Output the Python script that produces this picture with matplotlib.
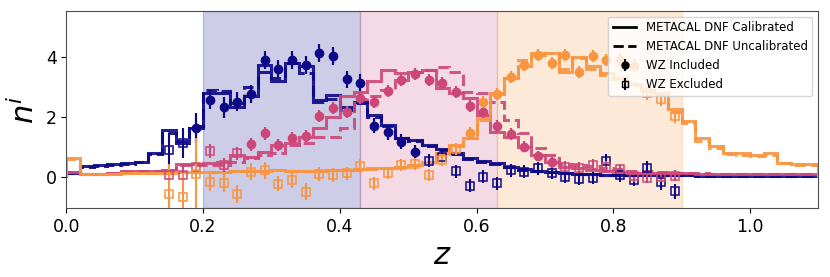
import numpy as np
import matplotlib
matplotlib.use("Agg")
import matplotlib.pyplot as plt

# histogram bin edges (dz = 0.02 from 0 to 1.1)
bin_edges = np.round(np.linspace(0.0, 1.1, 56), 2)

# METACAL DNF n(z), calibrated (solid) and uncalibrated (dashed)
nz_bin1_cal = [0.11, 0.35, 0.38, 0.42, 0.46, 0.50, 0.80, 1.56, 1.11, 1.61,
               2.80, 2.80, 2.33, 2.69, 3.72, 3.17, 3.78, 3.67, 2.56, 2.72,
               2.31, 2.50, 2.05, 1.72, 1.28, 1.22, 1.06, 0.91, 0.78, 0.61,
               0.52, 0.45, 0.33, 0.25, 0.20, 0.15, 0.12, 0.10, 0.08, 0.07,
               0.06, 0.06, 0.05, 0.05, 0.05, 0.05, 0.04, 0.04, 0.04, 0.04,
               0.04, 0.04, 0.04, 0.04, 0.04]
nz_bin1_uncal = [0.11, 0.32, 0.36, 0.40, 0.44, 0.48, 0.75, 1.45, 1.18, 1.68,
                 2.90, 2.85, 2.45, 3.00, 3.47, 3.28, 3.78, 3.45, 2.50, 2.60,
                 2.22, 2.45, 2.00, 1.68, 1.30, 1.20, 1.02, 0.88, 0.76, 0.60,
                 0.50, 0.43, 0.32, 0.24, 0.19, 0.15, 0.12, 0.10, 0.08, 0.07,
                 0.06, 0.06, 0.05, 0.05, 0.05, 0.05, 0.04, 0.04, 0.04, 0.04,
                 0.04, 0.04, 0.04, 0.04, 0.04]
nz_bin2_cal = [0.15, 0.10, 0.10, 0.12, 0.18, 0.20, 0.20, 0.22, 0.44, 0.44,
               0.46, 0.50, 0.72, 0.67, 0.83, 1.06, 1.11, 1.33, 1.61, 2.00,
               2.67, 2.83, 3.17, 3.56, 3.44, 3.50, 3.56, 2.95, 2.78, 2.61,
               2.06, 1.50, 1.33, 1.00, 0.72, 0.50, 0.33, 0.30, 0.22, 0.18,
               0.15, 0.14, 0.13, 0.12, 0.11, 0.11, 0.10, 0.10, 0.09, 0.09,
               0.09, 0.08, 0.08, 0.08, 0.08]
nz_bin2_uncal = [0.15, 0.10, 0.10, 0.12, 0.16, 0.18, 0.18, 0.20, 0.38, 0.40,
                 0.40, 0.39, 0.50, 0.61, 0.72, 0.78, 1.06, 1.11, 1.33, 1.33,
                 1.61, 2.60, 2.70, 2.90, 3.22, 3.50, 3.56, 3.64, 3.50, 2.83,
                 2.80, 2.50, 1.89, 1.44, 0.95, 0.72, 0.44, 0.39, 0.35, 0.30,
                 0.25, 0.20, 0.18, 0.15, 0.13, 0.12, 0.11, 0.10, 0.10, 0.09,
                 0.09, 0.08, 0.08, 0.08, 0.08]
nz_bin3_cal = [0.61, 0.10, 0.10, 0.10, 0.12, 0.12, 0.12, 0.13, 0.15, 0.15,
               0.17, 0.17, 0.18, 0.20, 0.20, 0.22, 0.20, 0.20, 0.20, 0.22,
               0.22, 0.25, 0.28, 0.30, 0.33, 0.40, 0.50, 0.78, 1.05, 1.30,
               1.95, 2.80, 3.30, 3.70, 4.06, 4.11, 3.50, 4.00, 3.67, 3.44,
               3.30, 3.10, 2.90, 2.80, 2.25, 1.85, 1.30, 1.02, 0.78, 0.78,
               0.72, 0.78, 0.47, 0.42, 0.42]
nz_bin3_uncal = [0.58, 0.10, 0.10, 0.10, 0.12, 0.12, 0.12, 0.13, 0.15, 0.15,
                 0.17, 0.17, 0.18, 0.19, 0.20, 0.21, 0.20, 0.20, 0.20, 0.21,
                 0.22, 0.24, 0.27, 0.30, 0.33, 0.40, 0.50, 0.75, 1.02, 1.30,
                 1.90, 2.75, 3.30, 3.90, 4.10, 4.10, 3.60, 3.95, 3.60, 3.40,
                 3.25, 3.05, 2.85, 2.75, 2.15, 1.80, 1.20, 0.95, 0.75, 0.74,
                 0.70, 0.74, 0.45, 0.40, 0.40]

# WZ clustering redshift points
z_wz = [0.15, 0.17, 0.19, 0.21, 0.23, 0.25, 0.27, 0.29, 0.31, 0.33,
        0.35, 0.37, 0.39, 0.41, 0.43, 0.45, 0.47, 0.49, 0.51, 0.53,
        0.55, 0.57, 0.59, 0.61, 0.63, 0.65, 0.67, 0.69, 0.71, 0.73,
        0.75, 0.77, 0.79, 0.81, 0.83, 0.85, 0.87, 0.89]
wz_bin1 = [0.89, 1.11, 1.61, 2.56, 2.31, 2.50, 2.76, 3.89, 3.58, 3.87,
           3.72, 4.11, 4.02, 3.24, 3.13, 1.69, 1.48, 1.17, 0.81, 0.54,
           0.67, 0.18, -0.30, 0.00, -0.22, 0.22, 0.17, 0.28, 0.13, 0.00,
           -0.06, -0.03, 0.53, 0.06, -0.10, 0.28, -0.17, -0.48]
wz_bin1_err = [0.55, 0.50, 0.50, 0.32, 0.35, 0.32, 0.30, 0.30, 0.30, 0.30,
               0.30, 0.30, 0.30, 0.28, 0.28, 0.25, 0.25, 0.25, 0.25, 0.22,
               0.22, 0.22, 0.22, 0.22, 0.22, 0.22, 0.22, 0.22, 0.20, 0.20,
               0.20, 0.20, 0.22, 0.22, 0.22, 0.25, 0.28, 0.25]
wz_bin2 = [0.05, 0.05, 0.33, 0.86, 0.39, 0.78, 1.08, 1.44, 1.06, 1.28,
           1.36, 2.02, 2.28, 2.14, 2.61, 2.48, 2.86, 3.22, 3.41, 3.21,
           3.13, 2.83, 2.36, 2.17, 1.68, 1.41, 1.00, 0.69, 0.48, 0.33,
           0.30, 0.40, 0.33, 0.26, 0.02, -0.03, 0.00, 0.03]
wz_bin2_err = [0.30, 0.30, 0.25, 0.22, 0.22, 0.22, 0.22, 0.22, 0.20, 0.20,
               0.20, 0.20, 0.20, 0.20, 0.20, 0.20, 0.20, 0.20, 0.20, 0.20,
               0.20, 0.20, 0.20, 0.20, 0.20, 0.20, 0.18, 0.18, 0.18, 0.18,
               0.18, 0.18, 0.18, 0.18, 0.18, 0.18, 0.18, 0.18]
wz_bin3 = [-0.56, -0.67, 0.10, -0.17, -0.22, -0.56, 0.17, 0.22, -0.24, -0.11,
           -0.50, 0.09, 0.06, 0.11, 0.36, -0.22, 0.11, 0.39, 0.44, 0.06,
           0.56, 0.91, 1.45, 2.50, 2.75, 3.33, 3.73, 4.06, 3.78, 4.04,
           3.50, 4.02, 3.89, 3.90, 3.70, 2.78, 2.58, 2.01]
wz_bin3_err = [1.00, 0.80, 1.20, 0.30, 0.30, 0.30, 0.28, 0.28, 0.25, 0.25,
               0.28, 0.22, 0.22, 0.22, 0.22, 0.22, 0.20, 0.20, 0.20, 0.20,
               0.20, 0.20, 0.20, 0.20, 0.20, 0.20, 0.20, 0.20, 0.20, 0.20,
               0.20, 0.20, 0.20, 0.22, 0.22, 0.22, 0.22, 0.22]

# z range where the WZ points were used in the calibration
wz_incl_lo = [0.19, 0.27, 0.59]
wz_incl_hi = [0.51, 0.71, 0.83]

# tomographic bin limits
bin_lims = [0.20, 0.43, 0.63, 0.90]

colors = ['#0d0887', '#cc4778', '#f89540']

fig = plt.figure(figsize=(8.3, 2.77), dpi=100)
ax = fig.add_axes([0.080, 0.249, 0.906, 0.712])

for i in range(3):
    ax.axvspan(bin_lims[i], bin_lims[i + 1], color=colors[i], alpha=0.2)

cal = [nz_bin1_cal, nz_bin2_cal, nz_bin3_cal]
uncal = [nz_bin1_uncal, nz_bin2_uncal, nz_bin3_uncal]
wz = [wz_bin1, wz_bin2, wz_bin3]
wz_err = [wz_bin1_err, wz_bin2_err, wz_bin3_err]

z_arr = np.array(z_wz)
for i in range(3):
    ax.stairs(cal[i], bin_edges, color=colors[i], lw=2.2, alpha=0.9)
    ax.stairs(uncal[i], bin_edges, color=colors[i], lw=2.2, ls='--', alpha=0.9)

    vals = np.array(wz[i])
    errs = np.array(wz_err[i])
    incl = (z_arr >= wz_incl_lo[i] - 1e-6) & (z_arr <= wz_incl_hi[i] + 1e-6)
    ax.errorbar(z_arr[incl], vals[incl], yerr=errs[incl], fmt='o', color=colors[i],
                ms=6, elinewidth=1.6, zorder=4)
    ax.errorbar(z_arr[~incl], vals[~incl], yerr=errs[~incl], fmt='s', color=colors[i],
                mfc='none', ms=5.5, mew=1.1, elinewidth=1.5, zorder=4)

# legend entries in black
h1, = ax.plot([], [], color='k', lw=2, label='METACAL DNF Calibrated')
h2, = ax.plot([], [], color='k', lw=2, ls='--', label='METACAL DNF Uncalibrated')
h3 = ax.errorbar([np.nan], [np.nan], yerr=[1], fmt='o', color='k', ms=5, label='WZ Included')
h4 = ax.errorbar([np.nan], [np.nan], yerr=[1], fmt='s', color='k', mfc='none', ms=5,
                 label='WZ Excluded')
ax.legend(handles=[h1, h2, h3, h4], loc='upper right', fontsize=8.5)

for sp in ax.spines.values():
    sp.set_color('0.3')

ax.set_xlim(0, 1.1)
ax.set_ylim(-1.04, 5.52)
ax.set_yticks([0, 2, 4])
ax.set_xticks([0.0, 0.2, 0.4, 0.6, 0.8, 1.0])
ax.tick_params(labelsize=12.5)
ax.set_xlabel('$z$', fontsize=22)
ax.set_ylabel('$n^i$', fontsize=22)

fig.savefig('out.png', dpi=100)
